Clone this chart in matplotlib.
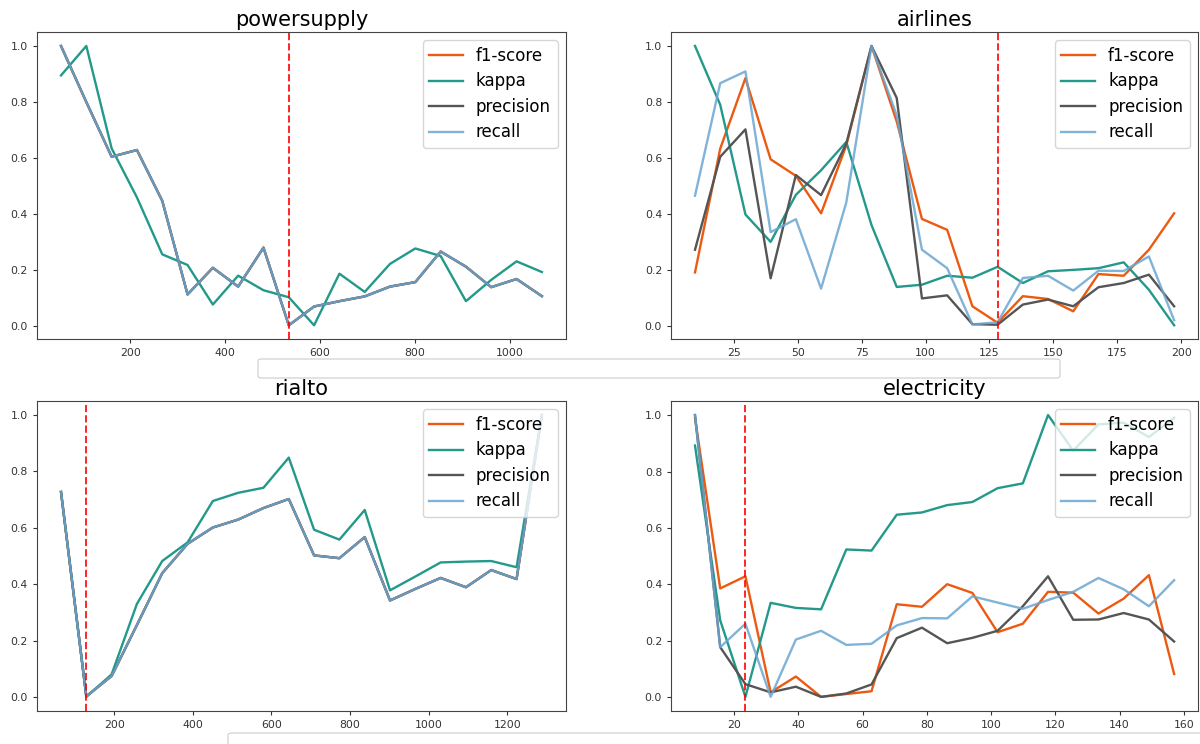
import numpy as np
import matplotlib
matplotlib.use('Agg')
import matplotlib.pyplot as plt
from matplotlib.patches import FancyBboxPatch

metrics = ['f1-score', 'kappa', 'precision', 'recall']
colors = ['#ec5a12', '#23998a', '#555555', '#6aa6d0']

# powersupply (f1 / precision / recall coincide)
ps_x = 53.4 * np.arange(1, 21)
ps_prf = [1.0, 0.80, 0.605, 0.629, 0.448, 0.114, 0.209, 0.142, 0.281, 0.004,
          0.071, 0.09, 0.107, 0.142, 0.158, 0.267, 0.213, 0.140, 0.169, 0.108]
ps_kappa = [0.895, 1.0, 0.635, 0.46, 0.257, 0.219, 0.078, 0.181, 0.129, 0.104,
            0.004, 0.188, 0.123, 0.223, 0.278, 0.251, 0.09, 0.166, 0.232, 0.194]
ps_drift = 10

# airlines
al_x = 9.86 * np.arange(1, 21)
al_f1 = [0.191, 0.633, 0.885, 0.595, 0.536, 0.402, 0.645, 1.0, 0.73, 0.382,
         0.343, 0.07, 0.011, 0.106, 0.096, 0.052, 0.185, 0.179, 0.272, 0.402]
al_kappa = [1.0, 0.79, 0.398, 0.30, 0.468, 0.556, 0.657, 0.36, 0.139, 0.147,
            0.179, 0.172, 0.211, 0.153, 0.195, 0.2, 0.206, 0.227, 0.129, 0.002]
al_prec = [0.272, 0.604, 0.702, 0.17, 0.539, 0.467, 0.651, 1.0, 0.814, 0.098,
           0.109, 0.006, 0.004, 0.076, 0.094, 0.07, 0.138, 0.153, 0.183, 0.07]
al_rec = [0.465, 0.867, 0.909, 0.335, 0.381, 0.133, 0.441, 1.0, 0.752, 0.272,
          0.206, 0.005, 0.013, 0.171, 0.179, 0.126, 0.197, 0.196, 0.248, 0.02]
al_drift = 13

# rialto (f1 / precision / recall coincide)
ri_x = 64.4 * np.arange(1, 21)
ri_prf = [0.727, 0.002, 0.074, 0.255, 0.439, 0.543, 0.601, 0.629, 0.67, 0.702,
          0.502, 0.492, 0.567, 0.342, 0.383, 0.422, 0.389, 0.45, 0.418, 1.0]
ri_kappa = [0.727, 0.0, 0.08, 0.33, 0.482, 0.548, 0.695, 0.724, 0.742, 0.849,
            0.593, 0.558, 0.663, 0.378, 0.427, 0.477, 0.48, 0.482, 0.46, 1.0]
ri_drift = 2

# electricity
el_x = 7.85 * np.arange(1, 21)
el_f1 = [0.99, 0.386, 0.429, 0.018, 0.074, 0.002, 0.012, 0.022, 0.33, 0.321,
         0.401, 0.37, 0.231, 0.261, 0.374, 0.371, 0.297, 0.35, 0.433, 0.083]
el_kappa = [0.892, 0.273, 0.002, 0.335, 0.317, 0.312, 0.524, 0.52, 0.647, 0.655,
            0.681, 0.692, 0.741, 0.758, 1.0, 0.874, 0.967, 0.973, 0.922, 0.99]
el_prec = [1.0, 0.178, 0.047, 0.018, 0.038, 0.002, 0.014, 0.046, 0.21, 0.247,
           0.192, 0.211, 0.236, 0.323, 0.429, 0.275, 0.276, 0.299, 0.276, 0.198]
el_rec = [1.0, 0.178, 0.261, 0.002, 0.205, 0.236, 0.186, 0.19, 0.255, 0.281,
          0.28, 0.358, 0.336, 0.314, 0.345, 0.374, 0.423, 0.383, 0.323, 0.415]
el_drift = 3

datasets = [
    ('powersupply', ps_x, [ps_prf, ps_kappa, ps_prf, ps_prf], ps_drift),
    ('airlines', al_x, [al_f1, al_kappa, al_prec, al_rec], al_drift),
    ('rialto', ri_x, [ri_prf, ri_kappa, ri_prf, ri_prf], ri_drift),
    ('electricity', el_x, [el_f1, el_kappa, el_prec, el_rec], el_drift),
]

fig = plt.figure(figsize=(12, 7.44), dpi=100)
positions = [
    [0.0308, 0.544, 0.4408, 0.413],
    [0.5592, 0.544, 0.4392, 0.413],
    [0.0308, 0.0444, 0.4408, 0.4167],
    [0.5592, 0.0444, 0.4392, 0.4167],
]

for pos, (name, x, series, drift) in zip(positions, datasets):
    ax = fig.add_axes(pos)
    for label, y, c in zip(metrics, series, colors):
        a = 0.85 if label == 'recall' else 1.0
        ax.plot(x, y, color=c, lw=1.7, label=label, alpha=a)
    ax.axvline(x[drift - 1], color='red', ls='--', lw=1.4, alpha=0.85)
    ax.set_title(name, fontsize=15, pad=4)
    ax.tick_params(labelsize=7.8, length=3, colors='#333333')
    for s in ax.spines.values():
        s.set_color('#444444')
    ax.legend(loc='upper right', fontsize=12, handlelength=2.0,
              labelspacing=0.45)

# empty figure-level legend boxes
for (x0, y0, w, h) in [(258, 359, 802, 19), (228, 733, 990, 20)]:
    box = FancyBboxPatch((x0 / 1200, 1 - (y0 + h) / 744), w / 1200, h / 744,
                         boxstyle='round,pad=0,rounding_size=0.003',
                         transform=fig.transFigure, facecolor='white',
                         edgecolor='#cccccc', lw=0.8, clip_on=False)
    fig.patches.append(box)

fig.savefig('out.png', dpi=100)
